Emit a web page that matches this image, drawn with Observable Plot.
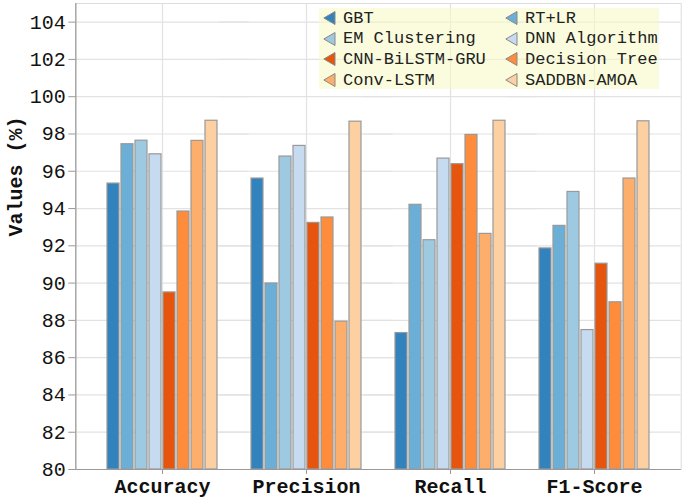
<!DOCTYPE html>
<html><head><meta charset="utf-8">
<script src="https://cdn.jsdelivr.net/npm/d3@7"></script>
<script src="https://cdn.jsdelivr.net/npm/@observablehq/plot@0.6"></script>
<style>
body{margin:0;background:#fff;}
#wrap{position:relative;width:685px;height:501px;}
#legend{position:absolute;left:319px;top:8px;width:340px;height:81px;background:rgba(248,250,200,0.6);font-family:"Liberation Mono";font-size:17px;color:#222;}
.item{position:absolute;display:flex;align-items:center;height:20px;white-space:nowrap;}
.item svg{margin-right:7px;}
</style></head><body><div id="wrap"></div>
<script>
const metrics = ["Accuracy","Precision","Recall","F1-Score"];
const methods = ["GBT","RT+LR","EM Clustering","DNN Algorithm","CNN-BiLSTM-GRU","Decision Tree","Conv-LSTM","SADDBN-AMOA"];
const colors = ["#3182bd","#6baed6","#9ecae1","#c6dbef","#e6550d","#fd8d3c","#fdae6b","#fdd0a2"];
const accuracy  = [95.34,97.45,97.64,96.91,89.50,93.84,97.63,98.71];
const precision = [95.61,89.98,96.79,97.36,93.23,93.52,87.93,98.66];
const recall    = [87.32,94.20,92.30,96.68,96.38,97.95,92.64,98.71];
const f1score   = [91.86,93.07,94.89,87.48,91.04,88.97,95.61,98.68];
const yTicks = d3.range(80,105,2);
const yBase = 80, yTop = 105;
const yLabel = "Values (%)";

const series = [accuracy, precision, recall, f1score];
const data = metrics.flatMap((m,i)=>methods.map((k,j)=>({metric:m, method:k, value:series[i][j]})));

const W = 685, H = 501, mL = 75, mR = 4, fxPad = 0.206;
const fxStep = (W - mL - mR) / (metrics.length - fxPad + 2*fxPad);
const gap = fxStep * fxPad; // outer gap == inner gap

const chart = Plot.plot({
  width:W, height:H, marginTop:3, marginRight:mR, marginBottom:32, marginLeft:mL,
  style:{fontFamily:"Liberation Mono", fontSize:"20px", color:"#111", background:"transparent"},
  fx:{domain:metrics, paddingInner:fxPad, paddingOuter:fxPad, label:null, axis:null},
  x:{domain:methods, paddingInner:0.16, paddingOuter:0.08, axis:null},
  y:{domain:[yBase,yTop], label:null, axis:null},
  color:{domain:methods, range:colors},
  marks:[
    Plot.ruleY(yTicks, {stroke:"#e2e2e2", strokeWidth:1.2, insetLeft:-gap, insetRight:-gap}),
    Plot.gridFx({stroke:"#e2e2e2", strokeOpacity:1, strokeWidth:1.2}),
    Plot.barY(data, {fx:"metric", x:"method", y1:yBase, y2:"value", fill:"method", stroke:"#999", strokeWidth:1.2}),
    Plot.frame({facet:"super", stroke:"#dcdcdc", insetLeft:-gap, insetRight:-gap}),
    Plot.ruleY([yBase], {stroke:"#999", strokeWidth:1.2, insetLeft:-gap, insetRight:-gap}),
    Plot.frame({facet:"super", anchor:"left", stroke:"#999", strokeWidth:1.2, insetLeft:-gap}),
    Plot.axisY(yTicks, {tickSize:7, tickPadding:3, label:null, fontSize:20, stroke:"#999", dx:-gap}),
    Plot.axisFx({anchor:"bottom", tickSize:5, tickPadding:4, label:null, fontSize:20, fontWeight:"bold", stroke:"#999"}),
    Plot.text([yLabel], {facet:"super", frameAnchor:"left", rotate:-90, dx:-60-gap, fontWeight:"bold", fontSize:20, fill:"#111"})
  ]
});
const wrap = document.getElementById("wrap");
wrap.appendChild(chart);

const legend = document.createElement("div");
legend.id = "legend";
methods.forEach((m,i)=>{
  const col = i % 2, row = Math.floor(i/2);
  const it = document.createElement("div");
  it.className = "item";
  it.style.left = (col ? 186 : 4) + "px";
  it.style.top = (row*20.7) + "px";
  it.innerHTML = `<svg width="13" height="14"><polygon points="12,0.5 0.8,7 12,13.5" fill="${colors[i]}" stroke="#888" stroke-width="1"/></svg><span>${m}</span>`;
  legend.appendChild(it);
});
wrap.appendChild(legend);
</script></body></html>
